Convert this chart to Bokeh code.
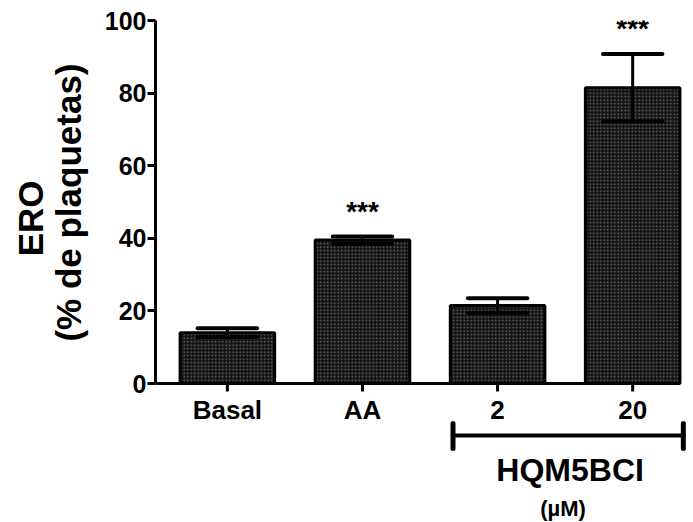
from bokeh.plotting import figure
from bokeh.models import Range1d, FixedTicker, Title
from bokeh.core.properties import value
from bokeh.embed import file_html
from bokeh.resources import INLINE

# ---- data ----
categories = ["Basal", "AA", "2", "20"]
means = [14.0, 39.5, 21.5, 81.5]
sems = [1.2, 1.0, 2.0, 9.3]
signif = ["", "***", "", "***"]
y_ticks = [0, 20, 40, 60, 80, 100]
y_title = ["(% de plaquetas)", "ERO"]
group_label = "HQM5BCI"
group_unit = "(µM)"
group_members = [2, 3]

# ---- layout ----
FONT = "Liberation Sans"
W, H = 693, 522
LEFT, TOP = 155, 20
FRAME_H = H - TOP
FRAME_W = W - LEFT
PPU = 3.63                      # pixels per y unit
XPU = 135.1                     # pixels per x unit
BAR_W = 0.7
y_start = 100 - FRAME_H / PPU
x_start = -0.532
x_end = x_start + FRAME_W / XPU

xs = list(range(len(categories)))
lower = [m - s for m, s in zip(means, sems)]
upper = [m + s for m, s in zip(means, sems)]

p = figure(width=W, height=H, x_range=Range1d(x_start, x_end),
           y_range=Range1d(y_start, 100), output_backend="svg",
           toolbar_location=None, x_axis_location=None,
           min_border_left=LEFT, min_border_top=TOP,
           min_border_bottom=0, min_border_right=0)
p.outline_line_color = None
p.grid.visible = False
p.background_fill_color = "white"

# y axis
ya = p.yaxis[0]
ya.ticker = FixedTicker(ticks=y_ticks)
ya.bounds = (0, 100)
ya.axis_line_width = 3
ya.major_tick_line_width = 3
ya.major_tick_out = 8
ya.major_tick_in = 0
ya.minor_tick_line_color = None
ya.major_label_standoff = 1
ya.major_label_text_font = FONT
ya.major_label_text_font_style = "bold"
ya.major_label_text_font_size = "25px"
ya.major_label_text_color = "black"

# y title: two vertical lines placed in the left panel
for txt, off, so in zip(y_title, [43, 160], [28, -34]):
    p.add_layout(Title(text=txt, align="right", offset=off, standoff=so,
                       text_font=FONT, text_font_style="bold",
                       text_font_size="35px", text_color="black"), "left")

# bars
p.vbar(x=xs, top=means, bottom=0, width=BAR_W, fill_color="#141414",
       hatch_pattern="dot", hatch_color="#6a6a6a", hatch_scale=3.5,
       hatch_weight=1, line_color="black", line_width=3)

# error bars
p.segment(x0=xs, y0=lower, x1=xs, y1=upper, line_color="black", line_width=3)
cap = 0.22
p.segment(x0=[x - cap for x in xs], y0=upper, x1=[x + cap for x in xs], y1=upper,
          line_color="black", line_width=4, line_cap="round")
p.segment(x0=[x - cap for x in xs], y0=lower, x1=[x + cap for x in xs], y1=lower,
          line_color="black", line_width=4, line_cap="round")

# significance stars
sx = [x for x, s in zip(xs, signif) if s]
sy = [u for u, s in zip(upper, signif) if s]
st = [s for s in signif if s]
p.text(x=sx, y=sy, text=st, y_offset=-25, text_align="center",
       text_baseline="alphabetic", text_font=value(FONT), text_font_style="bold",
       text_font_size="28px", text_color="black")

# x axis (drawn at y = 0)
p.segment(x0=[x_start], y0=[0], x1=[xs[-1] + BAR_W / 2], y1=[0],
          line_color="black", line_width=3)
p.segment(x0=xs, y0=[0] * len(xs), x1=xs, y1=[-8 / PPU] * len(xs),
          line_color="black", line_width=3)
p.text(x=xs, y=[0] * len(xs), text=categories, y_offset=26, text_align="center",
       text_baseline="alphabetic", text_font=value(FONT), text_font_style="bold",
       text_font_size="26px", text_color="black")

# group bracket
gx0 = group_members[0] - BAR_W / 2 + 0.02
gx1 = group_members[-1] + BAR_W / 2 + 0.025
gy = -52 / PPU
p.segment(x0=[gx0], y0=[gy], x1=[gx1], y1=[gy], line_color="black", line_width=4)
p.segment(x0=[gx0, gx1], y0=[gy - 13 / PPU] * 2, x1=[gx0, gx1], y1=[gy + 12 / PPU] * 2,
          line_color="black", line_width=5, line_cap="round")
gmid = sum(group_members) / len(group_members)
p.text(x=[gmid], y=[0], text=[group_label], y_offset=86, x_offset=5,
       text_align="center", text_baseline="alphabetic", text_font=value(FONT),
       text_font_style="bold", text_font_size="32px", text_color="black")
p.text(x=[gmid], y=[0], text=[group_unit], y_offset=125, x_offset=-2,
       text_align="center", text_baseline="alphabetic", text_font=value(FONT),
       text_font_style="bold", text_font_size="22px", text_color="black")

open("out.html", "w").write(file_html(p, INLINE))
